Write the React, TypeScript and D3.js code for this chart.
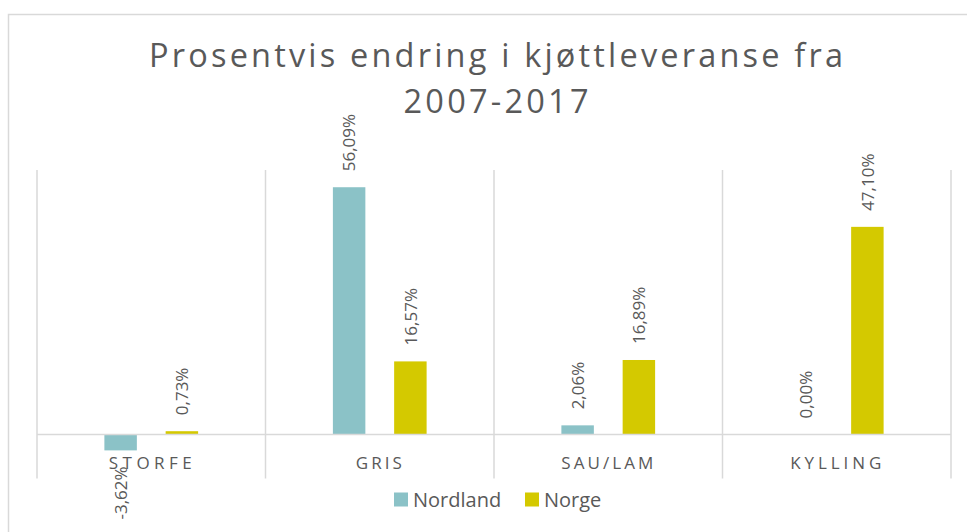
import React from "react";
import * as d3 from "d3";

const categories = ["STORFE", "GRIS", "SAU/LAM", "KYLLING"];
const seriesNames = ["Nordland", "Norge"];
const nordland = [-3.62, 56.09, 2.06, 0.0];
const norge = [0.73, 16.57, 16.89, 47.1];
const colors = ["#8BC2C7", "#D4C900"];
const titleLines = ["Prosentvis endring i kjøttleveranse fra", "2007-2017"];

const W = 967;
const H = 532;
const plot = { left: 37, right: 951, top: 170, bottom: 478.5 };
const textColor = "#595959";
const gridColor = "#D9D9D9";
const font = "'Open Sans', sans-serif";

const fmt = (v: number) => v.toFixed(2).replace(".", ",") + "%";

export default function App() {
  const series = [nordland, norge];
  const x0 = d3
    .scaleBand<string>()
    .domain(categories)
    .range([plot.left, plot.right])
    .paddingInner(0)
    .paddingOuter(0);
  const x1 = d3
    .scaleBand<string>()
    .domain(seriesNames)
    .range([0, x0.bandwidth()])
    .paddingInner(0.47)
    .paddingOuter(1.1);
  const y = d3.scaleLinear().domain([-10, 60]).range([plot.bottom, plot.top]);

  const boundaries = categories.map((c) => x0(c)!).concat([plot.right]);
  const titleWidths = [694, 185];
  const titleBaselines = [67, 113];
  const catWidths = [83, 46, 92, 91];

  return (
    <svg
      width={W}
      height={H}
      style={{ position: "absolute", left: 0, top: 0, background: "#fff" }}
    >
      <rect x={8.5} y={14.5} width={1100} height={1000} fill="#fff" stroke={gridColor} strokeWidth={1.5} />
      {titleLines.map((t, i) => (
        <text
          key={t}
          x={496}
          y={titleBaselines[i]}
          textAnchor="middle"
          fontFamily={font}
          fontSize={32.5}
          fill={textColor}
          textLength={titleWidths[i]}
          lengthAdjust="spacing"
        >
          {t}
        </text>
      ))}
      {boundaries.map((b, i) => (
        <line key={i} x1={b} x2={b} y1={plot.top} y2={plot.bottom} stroke={gridColor} strokeWidth={1.5} />
      ))}
      {series.map((vals, si) =>
        vals.map((v, ci) => {
          const bx = x0(categories[ci])! + x1(seriesNames[si])!;
          const bw = x1.bandwidth();
          const y0 = y(0);
          const yv = y(v);
          const cx = bx + bw / 2;
          const pos = v >= 0;
          const ly = pos ? yv - 16 : yv + 16;
          return (
            <g key={`${si}-${ci}`}>
              <rect x={bx} y={Math.min(y0, yv)} width={bw} height={Math.abs(yv - y0)} fill={colors[si]} />
              <text
                transform={`translate(${cx},${ly}) rotate(-90)`}
                textAnchor={pos ? "start" : "end"}
                dy="0.36em"
                fontFamily={font}
                fontSize={17}
                fill={textColor}
              >
                {fmt(v)}
              </text>
            </g>
          );
        })
      )}
      <line x1={plot.left} x2={plot.right} y1={y(0)} y2={y(0)} stroke={gridColor} strokeWidth={1.5} />
      {categories.map((c, i) => (
        <text
          key={c}
          x={x0(c)! + x0.bandwidth() / 2 - 1}
          y={469}
          textAnchor="middle"
          fontFamily={font}
          fontSize={17}
          fill={textColor}
          textLength={catWidths[i]}
          lengthAdjust="spacing"
        >
          {c}
        </text>
      ))}
      {seriesNames.map((s, i) => {
        const lx = [394, 525][i];
        return (
          <g key={s}>
            <rect x={lx} y={492.5} width={14} height={14} fill={colors[i]} />
            <text x={lx + 19} y={506.5} fontFamily={font} fontSize={20} fill={textColor}>
              {s}
            </text>
          </g>
        );
      })}
    </svg>
  );
}
